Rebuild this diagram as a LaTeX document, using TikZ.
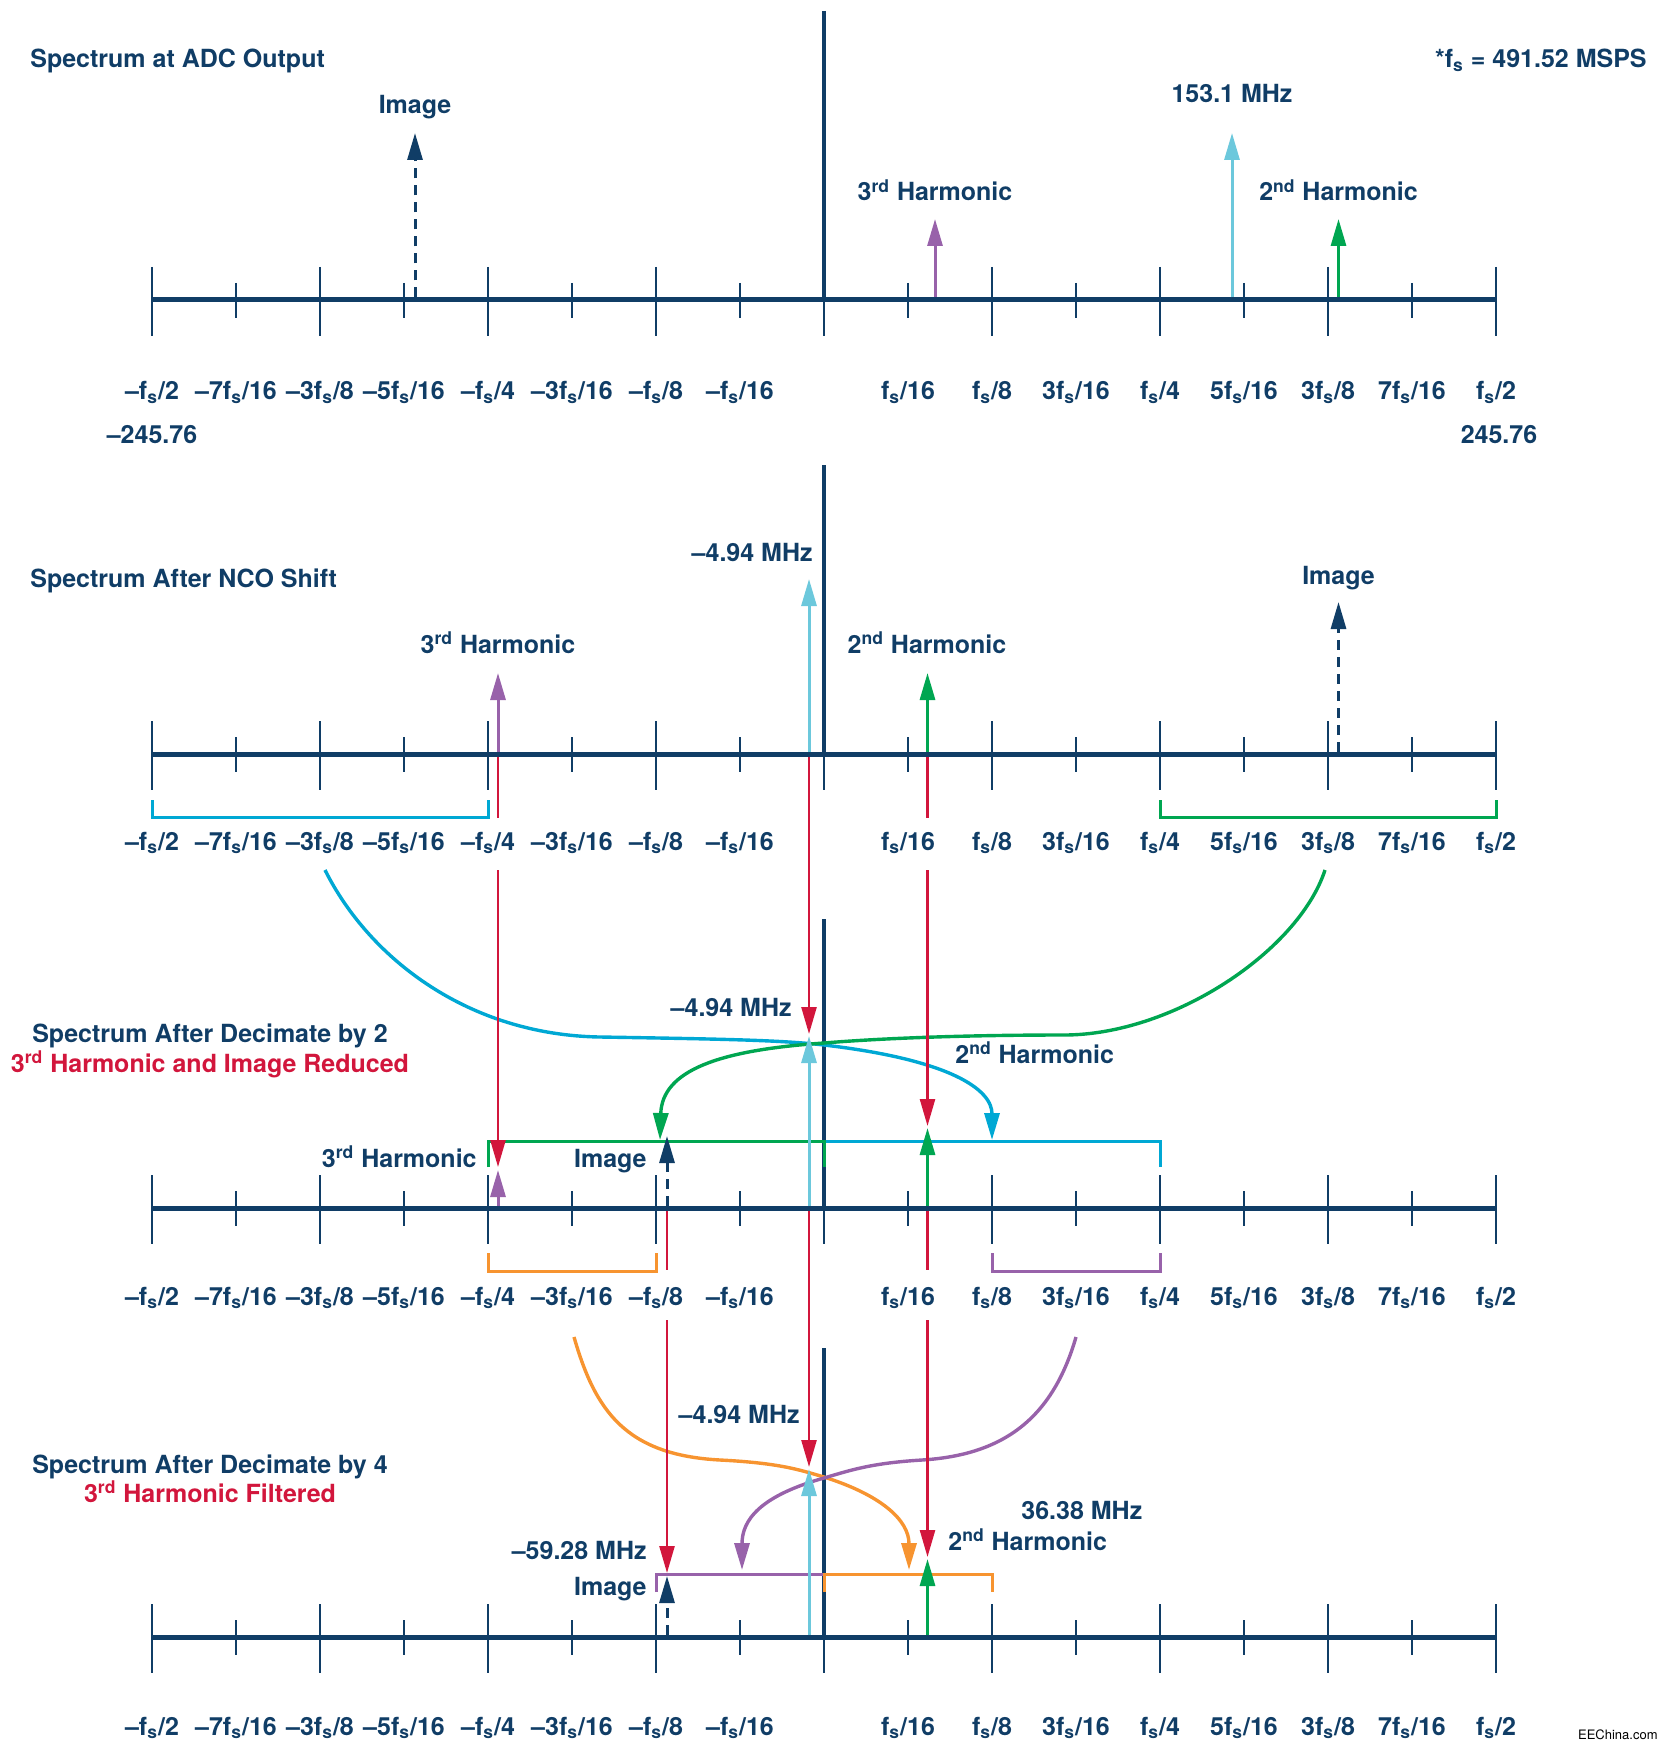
\documentclass[tikz,border=0pt]{standalone}
\usepackage{fontspec}
\setmainfont{TeX Gyre Heros}
\usetikzlibrary{arrows.meta}
\definecolor{navy}{RGB}{16,61,102}
\definecolor{adpurple}{RGB}{152,98,170}
\definecolor{adlblue}{RGB}{108,200,220}
\definecolor{adgreen}{RGB}{0,166,81}
\definecolor{adcyan}{RGB}{0,168,212}
\definecolor{adred}{RGB}{210,22,60}
\definecolor{adorange}{RGB}{247,148,48}
\newcommand\fsx{f\textsubscript{s}}
\tikzset{
  lbl/.style={font=\fontsize{12.5}{15}\selectfont\bfseries, text=navy, inner sep=0pt, anchor=base},
  tickst/.style={draw=navy, line width=1.25pt},
  axisst/.style={draw=navy, line width=2.5pt},
  centst/.style={draw=navy, line width=2.4pt},
  spec/.style={line width=1.5pt, -{Triangle[length=13.5pt,width=7.5pt]}},
  redln/.style={draw=adred, line width=1.25pt},
  redarr/.style={redln, -{Triangle[length=13.5pt,width=7.5pt]}},
  brk/.style={line width=1.5pt},
  crv/.style={line width=1.7pt, -{Triangle[length=13.5pt,width=7.5pt]}},
  dsh/.style={dash pattern=on 5pt off 3.5pt},
}
\newcommand\specaxis[4]{%
  \foreach \k in {0,...,16}{%
    \pgfmathsetmacro\xx{152+84*\k}%
    \ifodd\k
      \draw[tickst] (\xx,#1-17) -- (\xx,#1+18);
    \else
      \draw[tickst] (\xx,#1-33) -- (\xx,#1+36);
    \fi
  }%
  \draw[axisst] (152,#1) -- (1496,#1);
  \draw[centst] (824,#2) -- (824,#1+2.5);
  \foreach \k/\lab in {0/{--\fsx/2},1/{--7\fsx/16},2/{--3\fsx/8},3/{--5\fsx/16},4/{--\fsx/4},5/{--3\fsx/16},6/{--\fsx/8},7/{--\fsx/16},9/{\fsx/16},10/{\fsx/8},11/{3\fsx/16},12/{\fsx/4},13/{5\fsx/16},14/{3\fsx/8},15/{7\fsx/16},16/{\fsx/2}}{%
    \node[lbl] (lab#4-\k) at (152+84*\k,#3) {\lab};
  }%
}
\begin{document}
\begin{tikzpicture}[x=0.5pt,y=-0.5pt]
\useasboundingbox (0,0) rectangle (1667,1749);

% axes
\specaxis{300}{11}{400}{a}
\specaxis{754}{465}{850}{b}
\specaxis{1208}{919}{1305}{c}
\specaxis{1637}{1348}{1735}{d}

% brackets
\draw[brk, draw=adcyan] (152,800) -- (152,817) -- (488,817) -- (488,800);
\draw[brk, draw=adgreen] (1160,800) -- (1160,817) -- (1496,817) -- (1496,800);
\draw[brk, draw=adcyan] (824,1167) -- (824,1141) -- (1160,1141) -- (1160,1167);
\draw[brk, draw=adgreen] (488,1167) -- (488,1141) -- (824,1141) -- (824,1167);
\draw[brk, draw=adorange] (488,1253) -- (488,1271) -- (656,1271) -- (656,1253);
\draw[brk, draw=adpurple] (992,1253) -- (992,1271) -- (1160,1271) -- (1160,1253);
\draw[brk, draw=adpurple] (656,1592) -- (656,1574) -- (824,1574) -- (824,1592);
\draw[brk, draw=adorange] (824,1592) -- (824,1574) -- (992,1574) -- (992,1592);

% curves
\coordinate (cyS) at (325,870); \coordinate (cyE) at (992,1140);
\coordinate (grS) at (1325,870); \coordinate (grE) at (660,1140);
\coordinate (orS) at (574,1337); \coordinate (orE) at (909,1570);
\coordinate (puS) at (1076,1337); \coordinate (puE) at (742,1570);
\draw[crv, adcyan] (cyS) .. controls (370,960) and (470,1035) .. (600,1037)
   .. controls (720,1039) and (780,1040) .. (824,1045)
   .. controls (952,1060) and (992,1090) .. (cyE);
\draw[crv, adgreen] (grS) .. controls (1299,950) and (1174,1035) .. (1064,1035)
   .. controls (954,1035) and (872,1039) .. (824,1043)
   .. controls (720,1050) and (662,1070) .. (grE);
\draw[crv, adorange] (orS) .. controls (595,1410) and (625,1455) .. (720,1460)
   .. controls (780,1463) and (800,1470) .. (824,1477)
   .. controls (881,1495) and (909,1520) .. (orE);
\draw[crv, adpurple] (puS) .. controls (1052,1420) and (1002,1455) .. (922,1460)
   .. controls (872,1463) and (851,1470) .. (824,1478)
   .. controls (760,1496) and (742,1520) .. (puE);

% panel 1 spectral lines
\coordinate (a1img) at (415,297.5); \coordinate (t1img) at (415,133);
\coordinate (a1h3) at (935,297.5); \coordinate (t1h3) at (935,219);
\coordinate (a1sig) at (1232,297.5); \coordinate (t1sig) at (1232,133);
\coordinate (a1h2) at (1338.5,297.5); \coordinate (t1h2) at (1338.5,219);
\draw[spec, dsh, navy] (a1img) -- (t1img);
\draw[spec, adpurple] (a1h3) -- (t1h3);
\draw[spec, adlblue] (a1sig) -- (t1sig);
\draw[spec, adgreen] (a1h2) -- (t1h2);

% panel 2
\coordinate (a2sig) at (809,751.5); \coordinate (t2sig) at (809,579);
\coordinate (a2h3) at (498,751.5); \coordinate (t2h3) at (498,673);
\coordinate (a2h2) at (927.5,751.5); \coordinate (t2h2) at (927.5,673);
\coordinate (a2img) at (1338.5,751.5); \coordinate (t2img) at (1338.5,602);
\draw[spec, adlblue] (a2sig) -- (t2sig);
\draw[spec, adpurple] (a2h3) -- (t2h3);
\draw[spec, adgreen] (a2h2) -- (t2h2);
\draw[spec, dsh, navy] (a2img) -- (t2img);
\coordinate (b2sig) at (809,756.5);
\coordinate (b2h3) at (498,756.5); \coordinate (g2h3) at (498,818); \coordinate (c2h3) at (498,870);
\coordinate (b2h2) at (927.5,756.5); \coordinate (g2h2) at (927.5,818); \coordinate (c2h2) at (927.5,870);

% panel 3
\coordinate (d3sig) at (809,1034); \coordinate (a3sig) at (809,1205.5); \coordinate (t3sig) at (809,1036);
\coordinate (d3h3) at (498,1167); \coordinate (a3h3) at (498,1205.5); \coordinate (t3h3) at (498,1170);
\coordinate (d3h2) at (927.5,1126); \coordinate (a3h2) at (927.5,1205.5); \coordinate (t3h2) at (927.5,1128);
\coordinate (a3img) at (667,1205.5); \coordinate (t3img) at (667,1136);
\coordinate (b3sig) at (809,1210.5);
\coordinate (b3img) at (667,1210.5); \coordinate (g3img) at (667,1270); \coordinate (c3img) at (667,1320);
\coordinate (b3h2) at (927.5,1210.5); \coordinate (g3h2) at (927.5,1270); \coordinate (c3h2) at (927.5,1320);

% panel 4
\coordinate (d4sig) at (809,1467); \coordinate (a4sig) at (809,1634.5); \coordinate (t4sig) at (809,1469);
\coordinate (d4img) at (667,1573); \coordinate (a4img) at (667,1634.5); \coordinate (t4img) at (667,1576);
\coordinate (d4h2) at (927.5,1557); \coordinate (a4h2) at (927.5,1634.5); \coordinate (t4h2) at (927.5,1559);

% red translation lines
\draw[redln] (b2h3) -- (g2h3);
\draw[redarr] (c2h3) -- (d3h3);
\draw[redarr] (b2sig) -- (d3sig);
\draw[redln] (b2h2) -- (g2h2);
\draw[redarr] (c2h2) -- (d3h2);
\draw[redln] (b3img) -- (g3img);
\draw[redarr] (c3img) -- (d4img);
\draw[redarr] (b3sig) -- (d4sig);
\draw[redln] (b3h2) -- (g3h2);
\draw[redarr] (c3h2) -- (d4h2);

\draw[spec, adlblue] (a3sig) -- (t3sig);
\draw[spec, adpurple] (a3h3) -- (t3h3);
\draw[spec, adgreen] (a3h2) -- (t3h2);
\draw[spec, dsh, navy] (a3img) -- (t3img);
\draw[spec, adlblue] (a4sig) -- (t4sig);
\draw[spec, adgreen] (a4h2) -- (t4h2);
\draw[spec, dsh, navy] (a4img) -- (t4img);

% texts panel 1
\node[lbl, anchor=base west] (title1) at (30,68) {Spectrum at ADC Output};
\node[lbl, anchor=base east] (fsnote) at (1647,68) {*\fsx{} = 491.52 MSPS};
\node[lbl] (img1) at (415,114) {Image};
\node[lbl] (h31) at (935,201) {3\textsuperscript{rd} Harmonic};
\node[lbl] (sig1) at (1232,103) {153.1 MHz};
\node[lbl] (h21) at (1338.5,201) {2\textsuperscript{nd} Harmonic};
\node[lbl] (lo1) at (152,443) {--245.76};
\node[lbl] (hi1) at (1499,443) {245.76};

% texts panel 2
\node[lbl, anchor=base west] (title2) at (30,587) {Spectrum After NCO Shift};
\node[lbl, anchor=base east] (sig2) at (813,561) {--4.94 MHz};
\node[lbl] (h32) at (498,653) {3\textsuperscript{rd} Harmonic};
\node[lbl] (img2) at (1338.5,584) {Image};
\node[lbl] (h22) at (927,653) {2\textsuperscript{nd} Harmonic};

% texts panel 3
\node[lbl] (title3) at (210,1042) {Spectrum After Decimate by 2};
\node[lbl, text=adred] (sub3) at (210,1072) {3\textsuperscript{rd} Harmonic and Image Reduced};
\node[lbl, anchor=base east] (sig3) at (792,1016) {--4.94 MHz};
\node[lbl, anchor=base east] (h33) at (477,1167) {3\textsuperscript{rd} Harmonic};
\node[lbl, anchor=base east] (img3) at (647,1167) {Image};
\node[lbl, anchor=base west] (h23) at (955,1063) {2\textsuperscript{nd} Harmonic};

% texts panel 4
\node[lbl] (title4) at (210,1473) {Spectrum After Decimate by 4};
\node[lbl, text=adred] (sub4) at (210,1502) {3\textsuperscript{rd} Harmonic Filtered};
\node[lbl, anchor=base east] (sig4) at (800,1423) {--4.94 MHz};
\node[lbl, anchor=base east] (im4f) at (647,1559) {--59.28 MHz};
\node[lbl, anchor=base east] (img4) at (647,1595) {Image};
\node[lbl, anchor=base west] (h2f) at (1021,1519) {36.38 MHz};
\node[lbl, anchor=base west] (h24) at (948,1550) {2\textsuperscript{nd} Harmonic};

\node[font=\fontsize{6.5}{7}\selectfont, text=black, inner sep=0pt, anchor=base east] (credit) at (1658,1739) {EEChina.com};
\end{tikzpicture}
\end{document}
